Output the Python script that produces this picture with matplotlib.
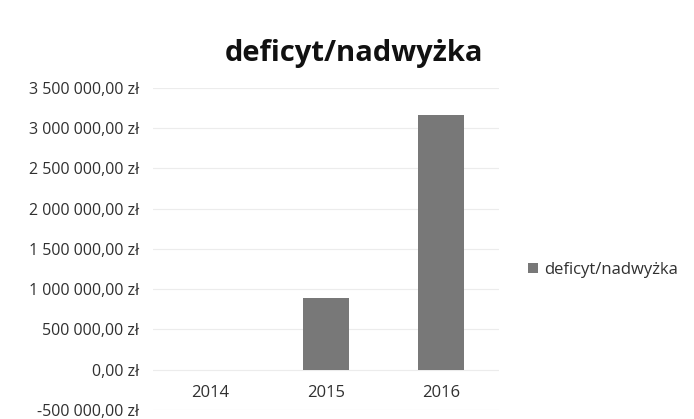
import matplotlib.pyplot as plt
from matplotlib.ticker import FuncFormatter

lata = ['2014', '2015', '2016']
deficyt = [0, 895000, 3165000]
y_ticks = [-500000, 0, 500000, 1000000, 1500000, 2000000, 2500000, 3000000, 3500000]

plt.rcParams['font.family'] = ['Open Sans', 'DejaVu Sans']


def zl(v, pos=None):
    s = '{:,.2f}'.format(v).replace(',', ' ').replace('.', ',')
    return s + ' zł'


fig = plt.figure(figsize=(6.94, 4.19), dpi=100)
ax = fig.add_axes([0.2205, 0.0215, 0.498, 0.769])

x = range(len(lata))
ax.bar(x, deficyt, width=0.4, color='#787878', label='deficyt/nadwyżka', zorder=3)

ax.set_xlim(-0.5, 2.5)
ax.set_ylim(-500000, 3500000)
ax.set_yticks(y_ticks)
ax.yaxis.set_major_formatter(FuncFormatter(zl))
ax.tick_params(axis='y', length=0, labelsize=11.5, labelcolor='#303030', pad=10)
ax.set_xticks([])
ax.grid(axis='y', color='#ececec', linewidth=0.8, zorder=0)
for s in ax.spines.values():
    s.set_visible(False)

for i, rok in enumerate(lata):
    ax.text(i, -285000, rok, ha='center', va='center', fontsize=12, color='#303030')

fig.text(0.51, 0.872, 'deficyt/nadwyżka', ha='center', va='center',
         fontsize=21, fontweight='bold', color='#111111')

ax.legend(loc='center left', bbox_to_anchor=(1.085, 0.435), frameon=False,
          fontsize=12, handlelength=0.6, handleheight=0.6, handletextpad=0.35,
          labelcolor='#303030', borderpad=0, borderaxespad=0)

fig.savefig('out.png', dpi=100)
